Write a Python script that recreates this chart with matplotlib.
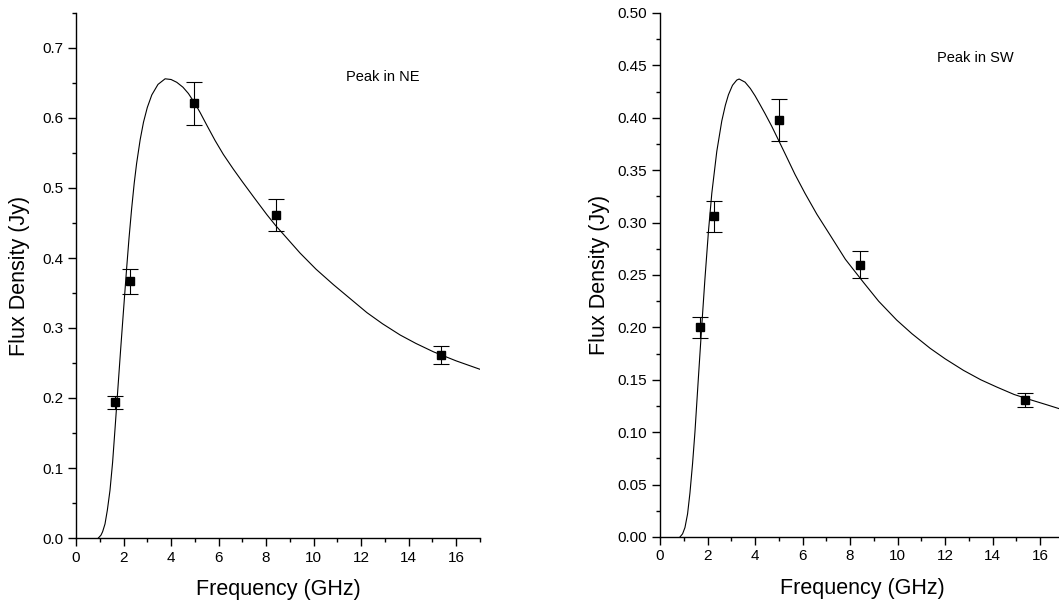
import matplotlib
matplotlib.use("Agg")
import matplotlib.pyplot as plt
from matplotlib.ticker import MultipleLocator, FormatStrFormatter

plt.rcParams['font.family'] = ['Liberation Sans', 'DejaVu Sans']

# ---- data: NE component ----
ne_freq = [1.66, 2.27, 4.98, 8.41, 15.36]
ne_flux = [0.194, 0.367, 0.621, 0.461, 0.261]
ne_err = [0.0095, 0.018, 0.031, 0.023, 0.013]
# fitted curve
ne_fit_freq = [0.94, 1.05, 1.12, 1.22, 1.32, 1.43, 1.54, 1.64, 1.78, 1.88, 1.99, 2.13,
               2.23, 2.34, 2.45, 2.55, 2.70, 2.84, 3.00, 3.19, 3.45, 3.75, 4.00, 4.24,
               4.50, 4.73, 5.00, 5.22, 5.50, 5.85, 6.20, 6.62, 7.00, 7.50, 8.03, 8.41,
               8.70, 9.43, 10.10, 10.83, 11.50, 12.24, 12.90, 13.64, 14.30, 15.04,
               16.00, 17.00]
ne_fit_flux = [0.000, 0.004, 0.009, 0.020, 0.040, 0.068, 0.108, 0.155, 0.222, 0.270,
               0.321, 0.385, 0.428, 0.470, 0.507, 0.535, 0.569, 0.594, 0.615, 0.633,
               0.648, 0.656, 0.655, 0.651, 0.644, 0.635, 0.621, 0.608, 0.590, 0.568,
               0.548, 0.527, 0.509, 0.486, 0.462, 0.446, 0.435, 0.407, 0.384, 0.362,
               0.343, 0.322, 0.306, 0.290, 0.278, 0.266, 0.253, 0.241]

# ---- data: SW component ----
sw_freq = [1.68, 2.27, 5.01, 8.43, 15.37]
sw_flux = [0.200, 0.306, 0.398, 0.260, 0.131]
sw_err = [0.0097, 0.015, 0.020, 0.013, 0.0067]
sw_fit_freq = [0.84, 0.95, 1.05, 1.16, 1.26, 1.37, 1.47, 1.61, 1.75, 1.89, 2.04, 2.18,
               2.39, 2.60, 2.75, 2.88, 3.05, 3.23, 3.33, 3.58, 3.80, 4.00, 4.20, 4.42,
               4.70, 4.98, 5.30, 5.68, 6.10, 6.60, 7.16, 7.80, 8.56, 9.20, 9.96, 10.60,
               11.37, 12.00, 12.77, 13.50, 14.18, 14.90, 15.58, 16.30, 17.00]
sw_fit_flux = [0.000, 0.003, 0.009, 0.022, 0.042, 0.070, 0.100, 0.150, 0.199, 0.246,
               0.292, 0.328, 0.368, 0.397, 0.412, 0.422, 0.431, 0.436, 0.437, 0.434,
               0.428, 0.421, 0.413, 0.404, 0.392, 0.379, 0.364, 0.346, 0.328, 0.308,
               0.288, 0.265, 0.243, 0.225, 0.207, 0.194, 0.180, 0.170, 0.159, 0.150,
               0.143, 0.136, 0.131, 0.126, 0.121]

W, H = 1059, 606
fig = plt.figure(figsize=(W / 100, H / 100), dpi=100)

def setup(ax, ymax, ymajor, yminor, fmt):
    ax.set_xlim(0, 17)
    ax.set_ylim(0, ymax)
    for s in ('top', 'right'):
        ax.spines[s].set_visible(False)
    for s in ('left', 'bottom'):
        ax.spines[s].set_linewidth(1.0)
    ax.xaxis.set_major_locator(MultipleLocator(2))
    ax.xaxis.set_minor_locator(MultipleLocator(1))
    ax.yaxis.set_major_locator(MultipleLocator(ymajor))
    ax.yaxis.set_minor_locator(MultipleLocator(yminor))
    ax.yaxis.set_major_formatter(FormatStrFormatter(fmt))
    ax.tick_params(which='major', direction='out', length=5.5, width=1.0, labelsize=11, pad=3.5)
    ax.tick_params(which='minor', direction='out', length=3.2, width=1.0)
    ax.set_xlabel('Frequency (GHz)', fontsize=15.5)
    ax.set_ylabel('Flux Density (Jy)', fontsize=15.5)

# left panel
axL = fig.add_axes([76 / W, 1 - 538 / H, 404 / W, 525 / H])
setup(axL, 0.75, 0.1, 0.05, '%.1f')
axL.plot(ne_fit_freq, ne_fit_flux, color='black', lw=0.8)
axL.errorbar(ne_freq, ne_flux, yerr=ne_err, fmt='s', color='black', ms=6.3,
             ecolor='black', elinewidth=0.8, capsize=6, capthick=0.8)
axL.text(11.35, 0.658, 'Peak in NE', fontsize=10.5, va='center', ha='left')
axL.xaxis.set_label_coords(0.5, -0.078)
axL.yaxis.set_label_coords(-0.114, 0.5)

# right panel
axR = fig.add_axes([660 / W, 1 - 537 / H, 404 / W, 524 / H])
setup(axR, 0.50, 0.05, 0.025, '%.2f')
axR.plot(sw_fit_freq, sw_fit_flux, color='black', lw=0.8)
axR.errorbar(sw_freq, sw_flux, yerr=sw_err, fmt='s', color='black', ms=6.3,
             ecolor='black', elinewidth=0.8, capsize=6, capthick=0.8)
axR.text(11.66, 0.457, 'Peak in SW', fontsize=10.5, va='center', ha='left')
axR.xaxis.set_label_coords(0.5, -0.078)
axR.yaxis.set_label_coords(-0.124, 0.5)

fig.savefig('out.png', dpi=100)
